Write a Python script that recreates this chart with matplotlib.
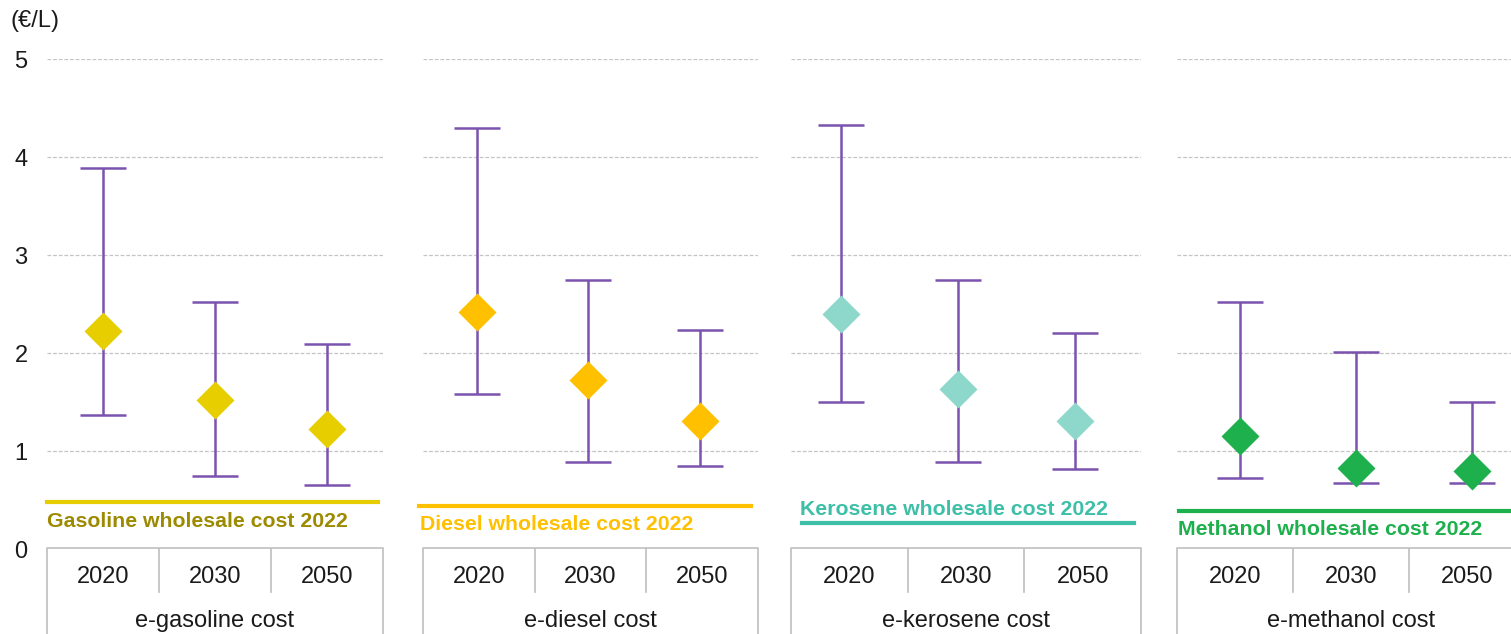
import matplotlib
matplotlib.use("Agg")
import matplotlib.pyplot as plt
import numpy as np

plt.rcParams['font.family'] = ['Liberation Sans', 'DejaVu Sans']

# ---------------- data ----------------
years = ["2020", "2030", "2050"]
panel_labels = ["e-gasoline cost", "e-diesel cost", "e-kerosene cost", "e-methanol cost"]
ref_labels = ["Gasoline wholesale cost 2022", "Diesel wholesale cost 2022",
              "Kerosene wholesale cost 2022", "Methanol wholesale cost 2022"]

gasoline_mid = [2.22, 1.52, 1.22]
gasoline_low = [1.37, 0.745, 0.65]
gasoline_high = [3.89, 2.52, 2.09]

diesel_mid = [2.42, 1.72, 1.31]
diesel_low = [1.58, 0.89, 0.85]
diesel_high = [4.30, 2.745, 2.23]

kerosene_mid = [2.40, 1.63, 1.31]
kerosene_low = [1.50, 0.89, 0.82]
kerosene_high = [4.33, 2.745, 2.20]

methanol_mid = [1.15, 0.83, 0.80]
methanol_low = [0.72, 0.67, 0.67]
methanol_high = [2.52, 2.01, 1.50]

ref_values = [0.48, 0.44, 0.265, 0.39]
y_ticks = [0, 1, 2, 3, 4, 5]
unit_label = "(€/L)"

mids = [gasoline_mid, diesel_mid, kerosene_mid, methanol_mid]
lows = [gasoline_low, diesel_low, kerosene_low, methanol_low]
highs = [gasoline_high, diesel_high, kerosene_high, methanol_high]

# ---------------- style ----------------
W, H = 1511, 634
panel_px = [(47, 383), (423, 758), (791, 1141), (1177, 1525)]
x_shift = [0.0, -0.02, -0.07, 0.04]
diamond_colors = ["#E6CE00", "#FFC000", "#8ED8CB", "#1DB04C"]
line_colors = ["#E6CC00", "#FFC000", "#3DBFA8", "#1DB04C"]
text_colors = ["#9C8A00", "#FFC000", "#3DBFA8", "#1DB04C"]
ref_span = [(0.0, 0.985), (-0.012, 0.979), (0.031, 0.98), (0.006, 1.0)]
ref_text_pos = [(0.0, 0.276), (-0.009, 0.255), (0.026, 0.408), (0.003, 0.194)]
err_color = "#7B52AE"
grid_color = "#C4C4C4"
table_color = "#BFBFBF"

top_px, bot_px = 59, 549

fig = plt.figure(figsize=(W / 100, H / 100), dpi=100)

for i in range(4):
    x0, x1 = panel_px[i]
    ax = fig.add_axes([x0 / W, 1 - bot_px / H, (x1 - x0) / W, (bot_px - top_px) / H])
    ax.set_xlim(-0.5, 2.5)
    ax.set_ylim(0, 5)
    ax.patch.set_alpha(0)
    for s in ax.spines.values():
        s.set_visible(False)
    for yv in y_ticks[1:]:
        ax.axhline(yv, color=grid_color, lw=0.9, ls=(0, (3, 1.5)), zorder=0)
    xpos = np.arange(len(years)) + x_shift[i]
    mid = np.array(mids[i]); lo = np.array(lows[i]); hi = np.array(highs[i])
    ax.errorbar(xpos, mid, yerr=[mid - lo, hi - mid], fmt='none', ecolor=err_color,
                elinewidth=1.8, capsize=16.5, capthick=1.8, zorder=2, clip_on=False)
    ax.plot(xpos, mid, ls='none', marker='D', ms=19.2, color=diamond_colors[i],
            mec='none', zorder=3, clip_on=False)
    ax.axhline(ref_values[i], xmin=ref_span[i][0], xmax=ref_span[i][1],
               color=line_colors[i], lw=3.0, zorder=1, clip_on=False)
    tx, ty = ref_text_pos[i]
    ax.text(tx, ty, ref_labels[i], transform=ax.get_yaxis_transform(),
            ha='left', va='center', fontsize=15.3, fontweight='bold', color=text_colors[i])
    ax.set_xticks([])
    if i == 0:
        ax.set_yticks(y_ticks)
        ax.set_yticklabels([str(v) for v in y_ticks], fontsize=17, color="#1A1A1A")
        ax.tick_params(axis='y', length=0, pad=14)
    else:
        ax.set_yticks([])

    # category table
    tab = fig.add_axes([x0 / W, 0, (x1 - x0) / W, (H - 548) / H])
    tab.set_xlim(-0.5, 2.5)
    tab.set_ylim(H, 548)
    tab.axis('off')
    tab.plot([-0.5, -0.5, 2.5, 2.5], [H + 5, 548, 548, H + 5], color=table_color,
             lw=1.2, clip_on=False)
    for d in [0.5, 1.5]:
        tab.plot([d, d], [548, 592], color=table_color, lw=1.2)
    for k, yr in enumerate(years):
        tab.text(k, 577, yr, ha='center', va='center', fontsize=17, color="#1A1A1A")
    tab.text(1, 621, panel_labels[i], ha='center', va='center', fontsize=17, color="#1A1A1A")

fig.text(10 / W, 1 - 21 / H, unit_label, ha='left', va='center', fontsize=17, color="#1A1A1A")

fig.savefig("out.png", dpi=100)
